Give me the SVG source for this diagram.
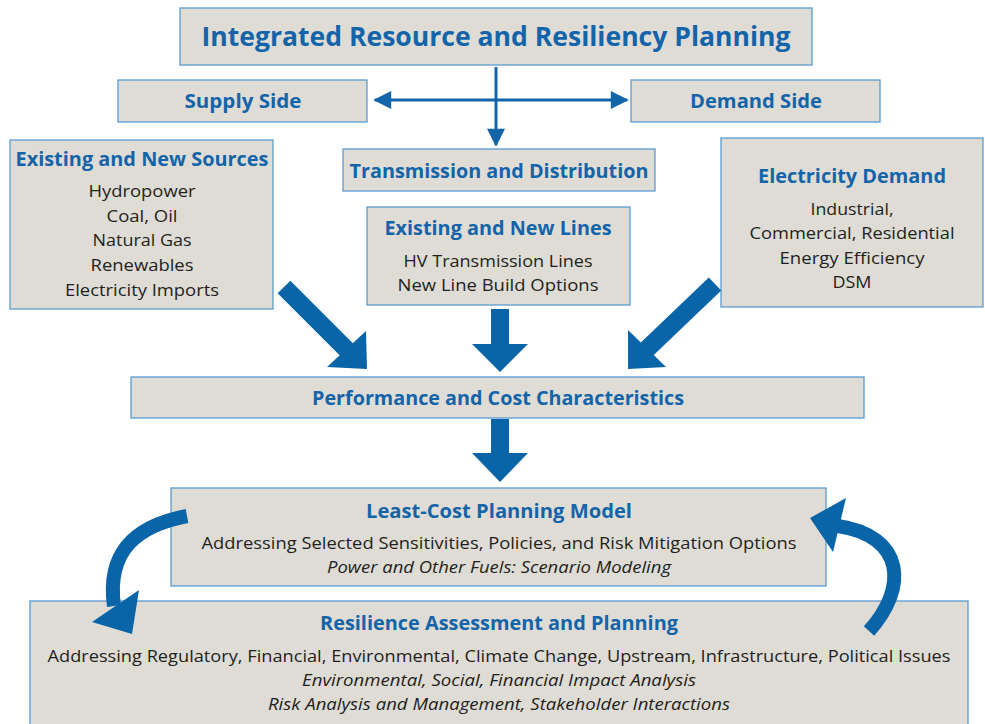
<svg xmlns="http://www.w3.org/2000/svg" width="985" height="724" viewBox="0 0 985 724">
<defs>
<style>
.box{fill:#dedcd5;stroke:#5b9bd0;stroke-width:1.3}
.h{font-family:"Open Sans","Liberation Sans",sans-serif;font-weight:bold;fill:#1464aa;text-anchor:middle}
.t{font-family:"Open Sans","Liberation Sans",sans-serif;fill:#231f20;text-anchor:middle;font-size:17px}
.i{font-style:italic}
.thin{stroke:#1464aa;stroke-width:3;fill:none}
.big{fill:#0a64a8}
.bigs{stroke:#0a64a8;fill:none}
</style>
<marker id="ah" viewBox="0 0 10 10" refX="9" refY="5" markerWidth="7" markerHeight="6" markerUnits="strokeWidth" orient="auto-start-reverse">
<path d="M0,0 L10,5 L0,10 z" fill="#1464aa"/>
</marker>
</defs>
<rect width="985" height="724" fill="#ffffff"/>

<g id="n-top">
<rect class="box" x="180" y="8" width="632" height="57"/>
<text class="h" x="496" y="46" font-size="26" textLength="589" lengthAdjust="spacingAndGlyphs">Integrated Resource and Resiliency Planning</text>
</g>
<g id="n-supply">
<rect class="box" x="118" y="80" width="249" height="42"/>
<text class="h" x="243" y="108" font-size="20" textLength="117" lengthAdjust="spacingAndGlyphs">Supply Side</text>
</g>
<g id="n-demand">
<rect class="box" x="631" y="80" width="249" height="42"/>
<text class="h" x="756" y="108" font-size="20" textLength="132" lengthAdjust="spacingAndGlyphs">Demand Side</text>
</g>
<g id="n-td">
<rect class="box" x="343" y="149" width="312" height="42"/>
<text class="h" x="499" y="178" font-size="20" textLength="299" lengthAdjust="spacingAndGlyphs">Transmission and Distribution</text>
</g>
<g id="n-sources">
<rect class="box" x="10" y="140" width="263" height="169"/>
<text class="h" x="142" y="166" font-size="19" textLength="253" lengthAdjust="spacingAndGlyphs">Existing and New Sources</text>
<text class="t" x="142" y="197" textLength="107" lengthAdjust="spacingAndGlyphs">Hydropower</text>
<text class="t" x="142" y="222" textLength="71" lengthAdjust="spacingAndGlyphs">Coal, Oil</text>
<text class="t" x="142" y="246" textLength="99" lengthAdjust="spacingAndGlyphs">Natural Gas</text>
<text class="t" x="142" y="271" textLength="103" lengthAdjust="spacingAndGlyphs">Renewables</text>
<text class="t" x="142" y="296" textLength="154" lengthAdjust="spacingAndGlyphs">Electricity Imports</text>
</g>
<g id="n-lines">
<rect class="box" x="367" y="207" width="263" height="98"/>
<text class="h" x="498" y="235" font-size="19" textLength="227" lengthAdjust="spacingAndGlyphs">Existing and New Lines</text>
<text class="t" x="498" y="267" textLength="189" lengthAdjust="spacingAndGlyphs">HV Transmission Lines</text>
<text class="t" x="498" y="291" textLength="201" lengthAdjust="spacingAndGlyphs">New Line Build Options</text>
</g>
<g id="n-elecdemand">
<rect class="box" x="721" y="138" width="262" height="169"/>
<text class="h" x="852" y="183" font-size="19" textLength="188" lengthAdjust="spacingAndGlyphs">Electricity Demand</text>
<text class="t" x="852" y="215" textLength="83" lengthAdjust="spacingAndGlyphs">Industrial,</text>
<text class="t" x="852" y="239" textLength="205" lengthAdjust="spacingAndGlyphs">Commercial, Residential</text>
<text class="t" x="852" y="264" textLength="145" lengthAdjust="spacingAndGlyphs">Energy Efficiency</text>
<text class="t" x="852" y="288" textLength="39" lengthAdjust="spacingAndGlyphs">DSM</text>
</g>
<g id="n-perf">
<rect class="box" x="131" y="377" width="733" height="41"/>
<text class="h" x="498" y="405" font-size="19" textLength="372" lengthAdjust="spacingAndGlyphs">Performance and Cost Characteristics</text>
</g>
<g id="n-leastcost">
<rect class="box" x="171" y="488" width="655" height="98"/>
<text class="h" x="499" y="518" font-size="19" textLength="266" lengthAdjust="spacingAndGlyphs">Least-Cost Planning Model</text>
<text class="t" x="499" y="549" textLength="595" lengthAdjust="spacingAndGlyphs">Addressing Selected Sensitivities, Policies, and Risk Mitigation Options</text>
<text class="t i" x="499" y="573" textLength="344" lengthAdjust="spacingAndGlyphs">Power and Other Fuels: Scenario Modeling</text>
</g>
<g id="n-resilience">
<rect class="box" x="30" y="601" width="938" height="130"/>
<text class="h" x="499" y="630" font-size="19" textLength="358" lengthAdjust="spacingAndGlyphs">Resilience Assessment and Planning</text>
<text class="t" x="499" y="662" textLength="903" lengthAdjust="spacingAndGlyphs">Addressing Regulatory, Financial, Environmental, Climate Change, Upstream, Infrastructure, Political Issues</text>
<text class="t i" x="499" y="686" textLength="394" lengthAdjust="spacingAndGlyphs">Environmental, Social, Financial Impact Analysis</text>
<text class="t i" x="499" y="710" textLength="462" lengthAdjust="spacingAndGlyphs">Risk Analysis and Management, Stakeholder Interactions</text>
</g>

<g id="connectors">
<line class="thin" x1="375" y1="100" x2="627" y2="100" marker-start="url(#ah)" marker-end="url(#ah)"/>
<line class="thin" x1="496" y1="67" x2="496" y2="145" marker-end="url(#ah)"/>
<line class="bigs" x1="284" y1="287" x2="348" y2="351" stroke-width="18"/>
<polygon class="big" points="367,369 327,367 366,331"/>
<rect class="big" x="491" y="309" width="18" height="36"/>
<polygon class="big" points="472,344 528,344 500,372"/>
<line class="bigs" x1="715" y1="284" x2="646" y2="350" stroke-width="18"/>
<polygon class="big" points="628,369 628,330 666,367"/>
<rect class="big" x="491" y="419" width="18" height="35"/>
<polygon class="big" points="472,453 528,453 500,482"/>
<path class="bigs" d="M187,516 C140,525 106,548 114,606" stroke-width="14"/>
<polygon class="big" points="92,622 139,590 132,634"/>
<path class="bigs" d="M869,631 C908,588 905,536 838,526" stroke-width="14"/>
<polygon class="big" points="810,518 846,498 833,552"/>
</g>
</svg>
